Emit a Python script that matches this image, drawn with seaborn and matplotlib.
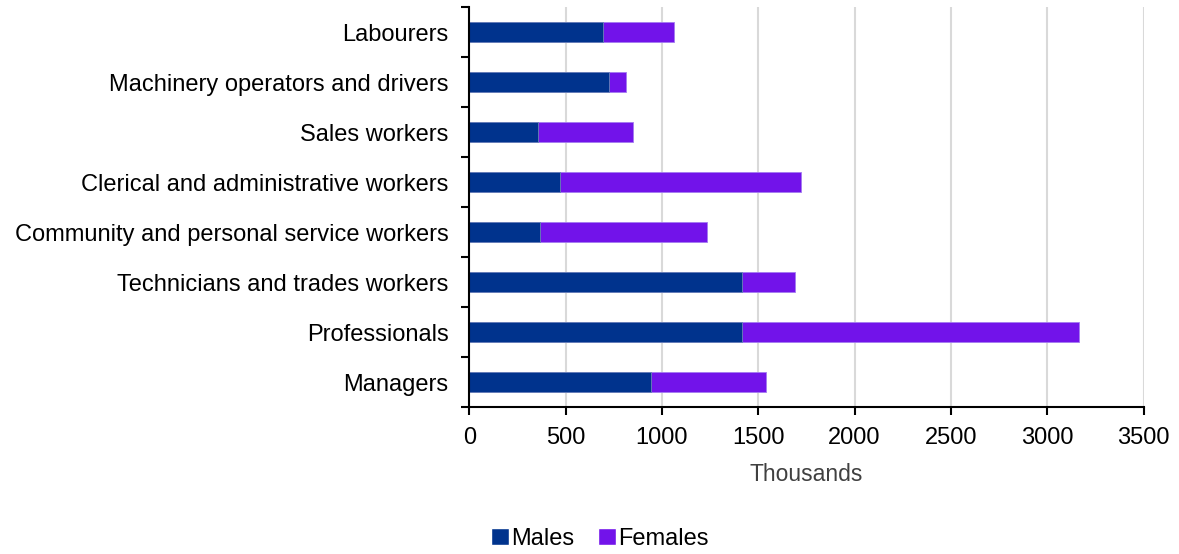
import numpy as np
import pandas as pd
import matplotlib
matplotlib.use("Agg")
import matplotlib.pyplot as plt
from matplotlib.patches import Patch
import seaborn as sns

# Datos (miles de personas)
ocupaciones = ["Labourers", "Machinery operators and drivers", "Sales workers",
               "Clerical and administrative workers",
               "Community and personal service workers",
               "Technicians and trades workers", "Professionals", "Managers"]
hombres = [695, 724, 356, 470, 366, 1416, 1416, 944]
mujeres = [370, 87, 493, 1251, 866, 274, 1747, 596]

color_h = "#00338D"
color_m = "#7213EA"

df = pd.DataFrame({"Ocupacion": ocupaciones, "Males": hombres, "Females": mujeres})
df["Total"] = df["Males"] + df["Females"]

sns.set_style("white")
plt.rcParams["font.family"] = ["Liberation Sans", "DejaVu Sans"]
plt.rcParams["text.color"] = "black"
plt.rcParams["xtick.color"] = "black"
plt.rcParams["ytick.color"] = "black"

fig = plt.figure(figsize=(11.79, 5.54), dpi=100)
ax = fig.add_axes([0.398, 0.265, 0.572, 0.722])

# total (mujeres) debajo, hombres encima
sns.barplot(data=df, y="Ocupacion", x="Total", color=color_m, width=0.4,
            orient="h", ax=ax, saturation=1, edgecolor="#a37cf0", linewidth=0.6)
sns.barplot(data=df, y="Ocupacion", x="Males", color=color_h, width=0.4,
            orient="h", ax=ax, saturation=1, edgecolor="#6b85b8", linewidth=0.6)

ax.set_xlim(0, 3500)
ax.set_ylim(7.5, -0.5)
ax.set_xticks(np.arange(0, 3501, 500))
ax.xaxis.grid(True, color="#d9d9d9", linewidth=1.5)
ax.set_axisbelow(True)

ax.set_yticks(range(len(ocupaciones)))
ax.set_yticklabels(ocupaciones)
ax.set_yticks(np.arange(-0.5, len(ocupaciones), 1), minor=True)
ax.tick_params(axis="y", which="major", length=0, pad=15, labelsize=17)
ax.tick_params(axis="y", which="minor", length=6, width=1.5, direction="out",
               left=True, color="black")
ax.tick_params(axis="x", length=6, width=1.5, direction="out", bottom=True,
               labelsize=17, color="black", pad=8)

for lado in ["top", "right"]:
    ax.spines[lado].set_visible(False)
for lado in ["left", "bottom"]:
    ax.spines[lado].set_color("black")
    ax.spines[lado].set_linewidth(1.5)

ax.set_ylabel("")
ax.set_xlabel("Thousands", fontsize=16.5, color="#404040", labelpad=10)

handles = [Patch(facecolor=color_h, label="Males"),
           Patch(facecolor=color_m, label="Females")]
fig.legend(handles=handles, loc="center", bbox_to_anchor=(0.509, 0.027), ncol=2,
           frameon=False, fontsize=17, handlelength=0.75, handleheight=0.75,
           handletextpad=0.1, columnspacing=1.0)

fig.savefig("out.png", dpi=100)
